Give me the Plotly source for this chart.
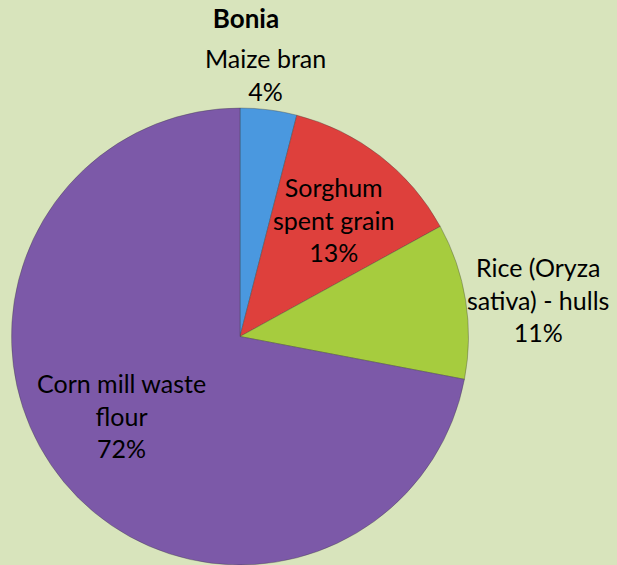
import plotly.graph_objects as go

categories = ["Maize bran", "Sorghum spent grain", "Rice (Oryza sativa) - hulls", "Corn mill waste flour"]
label_lines = [["Maize bran"], ["Sorghum", "spent grain"], ["Rice (Oryza", "sativa) - hulls"], ["Corn mill waste", "flour"]]
values = [4, 13, 11, 72]
colors = ["#4a98df", "#de403c", "#a6cc3e", "#7c59a8"]
title_text = "Bonia"

W, H = 617, 565
FONT = "Lato"

fig = go.Figure()
fig.add_trace(go.Pie(
    labels=categories,
    values=values,
    sort=False,
    direction="clockwise",
    rotation=0,
    textinfo="none",
    hoverinfo="label+percent",
    marker=dict(colors=colors, line=dict(color="rgba(60,60,60,0.35)", width=1)),
    domain=dict(x=[10 / W, 470 / W], y=[0, 1 - 108 / H]),
    showlegend=False,
))

# label anchor centres (pixels)
label_pos = [(265, 74), (333, 220), (538, 299), (121, 415)]
total = sum(values)
for lines, v, (px, py) in zip(label_lines, values, label_pos):
    txt = "<br>".join(lines + [f"{round(100 * v / total)}%"])
    fig.add_annotation(
        x=px / W, y=1 - py / H, xref="paper", yref="paper",
        text=txt, showarrow=False, xanchor="center", yanchor="middle",
        font=dict(family=FONT, size=25, color="#000000"), align="center",
    )

fig.update_layout(
    width=W, height=H,
    margin=dict(l=0, r=0, t=0, b=0),
    paper_bgcolor="#d8e4bc",
    plot_bgcolor="#d8e4bc",
    title=dict(text=f"<b>{title_text}</b>", x=246 / W, y=1 - 19 / H,
               xanchor="center", yanchor="middle",
               font=dict(family=FONT, size=26, color="#000000")),
)

fig.write_html(
    "out.html",
    config={"displayModeBar": False},
    post_script="document.body.style.margin='0px';document.body.style.background='#d8e4bc';",
)
